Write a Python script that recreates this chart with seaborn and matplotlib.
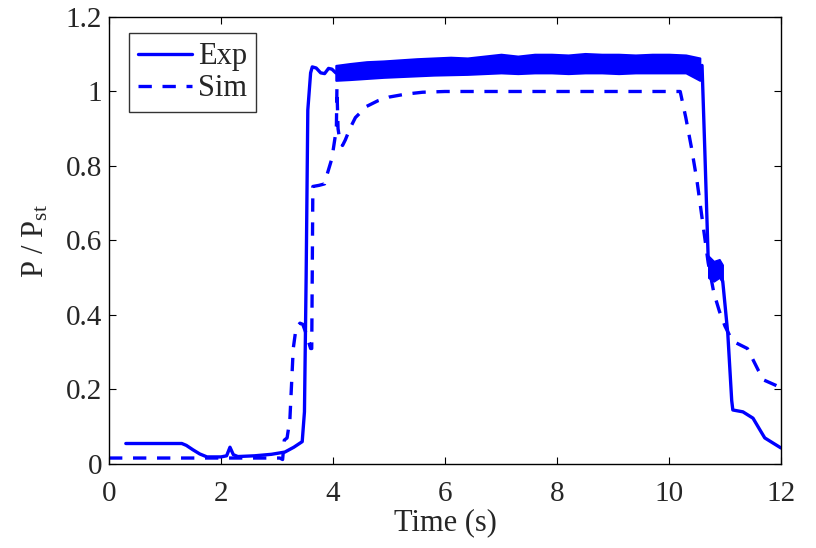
import numpy as np
import pandas as pd
import matplotlib
matplotlib.use("Agg")
import matplotlib.pyplot as plt
import seaborn as sns

# ---- data ----
exp_t = [0.3, 1.3, 1.38, 1.5, 1.62, 1.75, 2.0, 2.1, 2.16, 2.22, 2.3, 2.6, 2.9, 3.14, 3.3, 3.41, 3.45, 3.49,
         3.52, 3.55, 3.6, 3.63, 3.7, 3.78, 3.85, 3.92, 3.98, 4.05, 5.0, 6.0, 8.0, 10.0, 10.55,
         10.59, 10.64, 10.7, 10.8, 10.9, 10.96, 11.05, 11.12, 11.14, 11.32, 11.5, 11.63, 11.71, 11.86, 12.0]
exp_y = [0.055, 0.055, 0.05, 0.038, 0.027, 0.019, 0.019, 0.022, 0.045, 0.025, 0.02, 0.022, 0.026, 0.032, 0.045, 0.056, 0.06, 0.14,
         0.5, 0.95, 1.05, 1.066, 1.063, 1.05, 1.048, 1.062, 1.06, 1.05, 1.06, 1.068, 1.075, 1.075, 1.065,
         1.07, 0.84, 0.55, 0.53, 0.52, 0.49, 0.35, 0.17, 0.145, 0.14, 0.123, 0.09, 0.07, 0.056, 0.043]

sim_t = [0.0, 1.0, 2.0, 2.5, 2.8, 3.05, 3.1, 3.13, 3.18, 3.23, 3.29, 3.34, 3.41, 3.46, 3.52, 3.6, 3.62, 3.64,
         3.75, 3.85, 3.88, 3.98, 4.03, 4.06, 4.07, 4.09, 4.12, 4.17, 4.22, 4.3, 4.4, 4.6, 4.8, 5.0, 5.3, 5.6,
         6.0, 10.2, 10.3, 10.4, 10.5, 10.6, 10.7, 10.8, 10.9, 11.0, 11.1, 11.2, 11.4, 11.5, 11.6, 11.7, 11.85, 12.0]
sim_y = [0.016, 0.016, 0.016, 0.016, 0.016, 0.016, 0.012, 0.064, 0.07, 0.12, 0.31, 0.365, 0.378, 0.375, 0.35, 0.31, 0.31, 0.745,
         0.748, 0.752, 0.77, 0.82, 0.87, 0.9, 1.01, 0.9, 0.87, 0.855, 0.87, 0.9, 0.93, 0.96, 0.975, 0.985, 0.993, 0.998,
         1.0, 1.0, 0.93, 0.85, 0.76, 0.65, 0.54, 0.46, 0.41, 0.37, 0.34, 0.325, 0.31, 0.28, 0.25, 0.225, 0.215, 0.205]

# noisy band of the measured signal (envelope)
band_t = [4.05, 4.3, 4.6, 4.9, 5.2, 5.5, 5.8, 6.1, 6.4, 6.7, 7.0, 7.3, 7.6, 7.9, 8.2, 8.5, 8.8, 9.1, 9.4,
          9.7, 10.0, 10.3, 10.55]
band_hi = [1.07, 1.075, 1.08, 1.082, 1.085, 1.088, 1.09, 1.092, 1.09, 1.095, 1.1, 1.095, 1.1, 1.1, 1.098,
           1.102, 1.1, 1.1, 1.098, 1.1, 1.1, 1.098, 1.09]
band_lo = [1.03, 1.032, 1.035, 1.038, 1.04, 1.042, 1.044, 1.045, 1.046, 1.048, 1.05, 1.048, 1.05, 1.05, 1.048,
           1.05, 1.05, 1.048, 1.05, 1.05, 1.05, 1.05, 1.03]
blob_t = [10.7, 10.8, 10.9, 10.96]
blob_hi = [0.56, 0.545, 0.55, 0.535]
blob_lo = [0.5, 0.49, 0.5, 0.485]

x_ticks = [0, 2, 4, 6, 8, 10, 12]
y_ticks = [0, 0.2, 0.4, 0.6, 0.8, 1.0, 1.2]
y_ticklabels = ["0", "0.2", "0.4", "0.6", "0.8", "1", "1.2"]

# ---- style ----
sns.set_theme(style="white")
plt.rcParams["font.family"] = ["Liberation Serif", "DejaVu Serif"]
plt.rcParams["mathtext.fontset"] = "custom"
plt.rcParams["mathtext.rm"] = "Liberation Serif"
plt.rcParams["mathtext.it"] = "Liberation Serif:italic"

BLUE = "#0000ff"
FS = 21

fig = plt.figure(figsize=(8.16, 5.48), dpi=100)
ax = fig.add_axes([0.1336, 0.1533, 0.8235, 0.8157])

df_exp = pd.DataFrame({"t": exp_t, "p": exp_y})
df_sim = pd.DataFrame({"t": sim_t, "p": sim_y})

sns.lineplot(data=df_exp, x="t", y="p", ax=ax, color=BLUE, lw=2.4, sort=False,
             estimator=None, label="Exp")
sns.lineplot(data=df_sim, x="t", y="p", ax=ax, color=BLUE, lw=2.4, sort=False,
             estimator=None, label="Sim", dashes=False)
ax.lines[1].set_dashes((4.0, 3.2))

ax.fill_between(band_t, band_lo, band_hi, color=BLUE, lw=1.5, edgecolor=BLUE)
ax.fill_between(blob_t, blob_lo, blob_hi, color=BLUE, lw=1.0, edgecolor=BLUE)

ax.set_xlim(0, 12)
ax.set_ylim(0, 1.2)
ax.set_xticks(x_ticks)
ax.set_xticklabels([str(v) for v in x_ticks])
ax.set_yticks(y_ticks)
ax.set_yticklabels(y_ticklabels)
ax.tick_params(direction="in", length=5, width=0.8, color="black", labelsize=FS,
               top=True, right=True, bottom=True, left=True)
ax.tick_params(axis="x", pad=12)
ax.tick_params(axis="y", pad=5)
for s in ax.spines.values():
    s.set_color("black")
    s.set_linewidth(1.0)

ax.set_xlabel("Time (s)", fontsize=FS + 1, labelpad=1)
ax.set_ylabel(r"P / P$_{\mathrm{st}}$", fontsize=FS + 1, labelpad=11)

leg = ax.legend(loc="upper left", bbox_to_anchor=(0.03, 0.964), borderaxespad=0,
                fontsize=FS + 1, frameon=True, fancybox=False, edgecolor="black",
                handlelength=1.75, handletextpad=0.2, borderpad=0.3, labelspacing=0.1)
leg.get_frame().set_linewidth(1.0)

fig.savefig("out.png", dpi=100, facecolor="white")
